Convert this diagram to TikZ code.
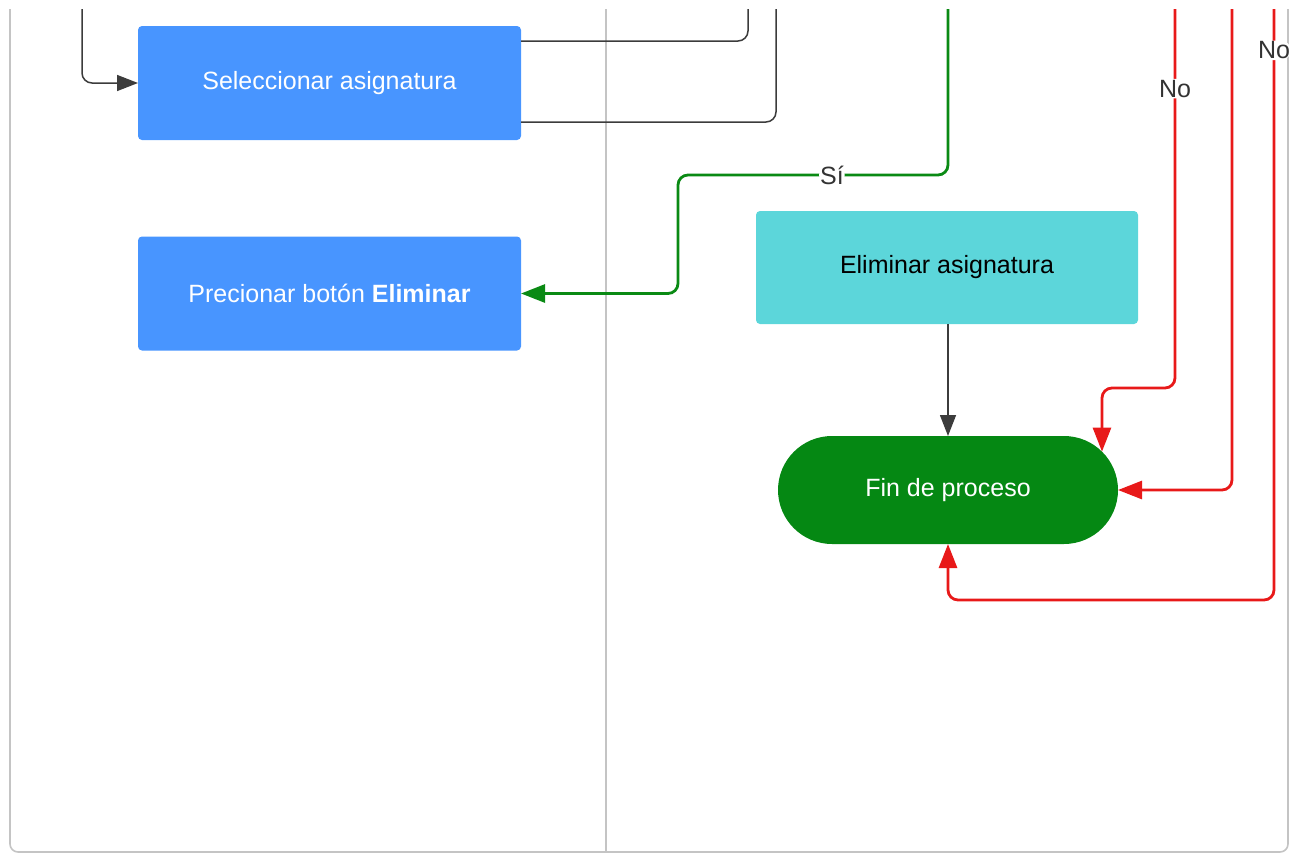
\documentclass[tikz,border=0pt]{standalone}
\usepackage{fontspec}
\setmainfont{Liberation Sans}
\usetikzlibrary{arrows.meta,shapes.misc}
\definecolor{boxblue}{HTML}{4895FF}
\definecolor{boxcyan}{HTML}{5CD6DA}
\definecolor{endgreen}{HTML}{058813}
\definecolor{lgreen}{HTML}{0A8A14}
\definecolor{lred}{HTML}{E81919}
\definecolor{lgray}{HTML}{3C3C3C}
\definecolor{framegray}{HTML}{C4C4C4}
\tikzset{
  txt/.style={font=\fontsize{25}{30}\selectfont},
  bluebox/.style={txt, rectangle, rounded corners=4pt, fill=boxblue, text=white, minimum width=383pt, minimum height=114pt, inner sep=0pt, outer sep=0pt},
  cyanbox/.style={txt, rectangle, rounded corners=4pt, fill=boxcyan, text=black, minimum width=382pt, minimum height=113pt, inner sep=0pt, outer sep=0pt},
  endbox/.style={txt, rounded rectangle, fill=endgreen, text=white, minimum width=340pt, minimum height=108pt, inner sep=0pt, outer sep=0pt},
  blackline/.style={draw=lgray, line width=1.5pt, rounded corners=10pt, -{Triangle[length=21pt,width=16pt]}},
  blackplain/.style={draw=lgray, line width=1.5pt, rounded corners=10pt},
  greenline/.style={draw=lgreen, line width=2.8pt, rounded corners=10pt, -{Triangle[length=24pt,width=18pt]}},
  redline/.style={draw=lred, line width=2.8pt, rounded corners=10pt, -{Triangle[length=24pt,width=18pt]}},
  lbl/.style={txt, fill=white, text=black!80, inner sep=1pt},
  frame/.style={draw=framegray, line width=1.6pt, rounded corners=8pt}
}
\begin{document}
\begin{tikzpicture}[x=1pt,y=-1pt]
\useasboundingbox (0,0) rectangle (1298,854);
\begin{scope}
\clip (0,0) rectangle (1290,854);
% frame and lane divider
\draw[frame] (10,9) -- (10,852) -- (1288,852) -- (1288,9);
\draw[framegray, line width=1.6pt] (606,9) -- (606,852);

% nodes
\node[bluebox] (sel) at (329.5,83) {Seleccionar asignatura};
\node[bluebox] (prec) at (329.5,293.5) {Precionar botón \textbf{Eliminar}};
\node[cyanbox] (elim) at (947,267.5) {Eliminar asignatura};
\node[endbox] (fin) at (948,490) {Fin de proceso};

% free ends at the top
\coordinate (tA) at (82,9);
\coordinate (tB) at (748,9);
\coordinate (tC) at (776,9);
\coordinate (tG) at (948,9);
\coordinate (tR1) at (1175,9);
\coordinate (tR2) at (1232,9);
\coordinate (tR3) at (1274,9);

% black connectors
\draw[blackline] (tA) |- (sel.west);
\draw[blackplain] (sel.east |- 0,41) -| (tB);
\draw[blackplain] (sel.east |- 0,122) -| (tC);
\draw[blackline] (fin.north |- elim.south) -- (fin.north);

% green connector
\draw[greenline] (tG) -- (948,175) -- node[lbl, pos=0.43] {Sí} (678,175) -- (678,293.5) -- (prec.east);

% red connectors
\draw[redline] (tR1) -- node[lbl, pos=0.21] {No} (1175,388) -- (fin.14.7 |- 0,388) -- (fin.14.7);
\draw[redline] (tR2) |- (fin.east);
\draw[redline] (tR3) -- node[lbl, pos=0.07] {No} (1274,600) -- (948,600) -- (fin.south);
\end{scope}
\end{tikzpicture}
\end{document}
